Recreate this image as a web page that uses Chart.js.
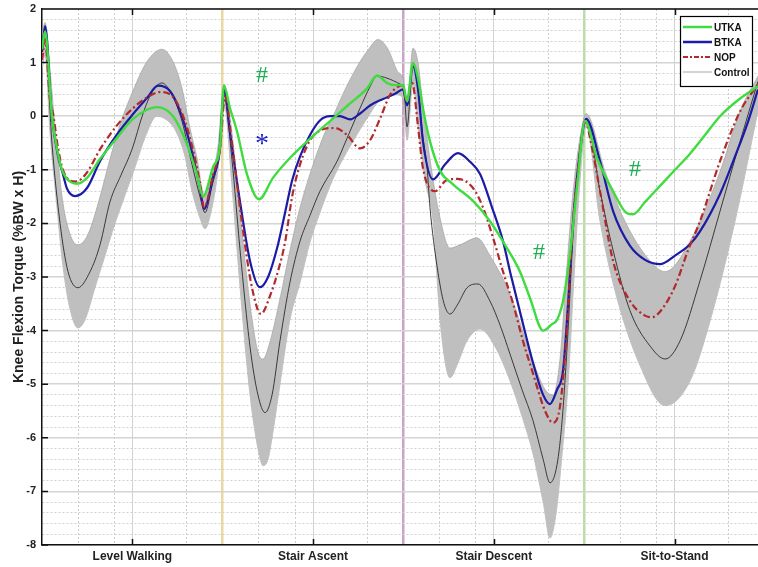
<!DOCTYPE html>
<html>
<head>
<meta charset="utf-8">
<script src="https://cdn.jsdelivr.net/npm/chart.js@4.4.1/dist/chart.umd.min.js"></script>
<style>
  html, body { margin: 0; padding: 0; background: #fff; }
  #wrap { width: 758px; height: 567px; }
</style>
</head>
<body>
<div id="wrap"><canvas id="chart" width="758" height="567"></canvas></div>
<script>
// x = % of each task, tasks laid end to end (0-100, 100-200, ...)
const taskLabels = ['Level Walking', 'Stair Ascent', 'Stair Descent', 'Sit-to-Stand'];
const taskCenters = [50, 150, 250, 350];
const xGridMarks = [20, 40, 50, 80, 100, 120, 140, 150, 180, 200, 220, 240, 250, 280, 300, 320, 340, 350, 380];
const xMax = 396.2;
const yMin = -8, yMax = 2;

const seriesNames = ['UTKA', 'BTKA', 'NOP', 'Control'];

const utkaX = [0, 1.7, 5.5, 8.9, 11.6, 15.5, 19.4, 24.9, 32.1, 41.5, 50.4, 63.6, 72.5, 80.2, 85.8, 89.1, 94.6, 98.5,
  100.7, 104.0, 107.9, 113.4, 120.1, 127.8, 137.2, 146.7, 159.4, 168.8, 179.9, 185.4, 190.9, 195.4, 199.8,
  202.0, 205.3, 208.1, 210.8, 214.7, 220.3, 227.4, 238.5, 247.9, 256.2, 264.5, 270.1, 277.3, 282.2, 285.0, 288.3, 292.2, 296.1,
  300.5, 307.1, 316.0, 323.7, 327.1, 333.7, 342.0, 350.3, 358.6, 366.9, 375.2, 386.3, 396.2];
const utkaY = [1.25, 1.58, 0.0, -0.71, -1.05, -1.22, -1.26, -1.15, -0.8, -0.4, -0.05, 0.17, 0.0, -0.52, -1.1, -1.5, -0.95, -0.55,
  0.57, 0.15, -0.28, -1.08, -1.55, -1.15, -0.78, -0.47, -0.09, 0.19, 0.52, 0.76, 0.62, 0.58, 0.58,
  0.28, 0.99, 0.7, 0.15, -0.47, -1.02, -1.27, -1.58, -1.96, -2.4, -2.9, -3.4, -4.0, -3.88, -3.8, -3.45, -2.57, -1.3,
  -0.09, -0.78, -1.4, -1.81, -1.83, -1.6, -1.3, -1.0, -0.7, -0.35, 0.0, 0.33, 0.56];

const btkaX = [0, 1.7, 5.5, 8.9, 11.6, 13.8, 18.3, 24.9, 32.1, 41.5, 50.4, 58.1, 64.2, 70.8, 76.4, 81.9, 87.4, 89.7, 94.6, 98.5,
  100.7, 104.0, 109.6, 115.1, 120.6, 125.1, 130.1, 134.5, 138.4, 142.8, 148.3, 153.8, 159.4, 164.9, 170.5, 176.0, 181.5, 188.7, 195.4, 199.8,
  202.0, 205.3, 208.1, 210.8, 216.4, 223.0, 230.2, 236.9, 242.4, 249.0, 255.1, 259.0, 265.6, 271.7, 277.3, 281.1, 285.0, 288.3, 291.1, 293.9, 297.2,
  301.1, 308.8, 316.0, 325.4, 333.7, 342.0, 350.3, 358.6, 364.1, 375.2, 383.5, 390.7, 396.2];
const btkaY = [1.2, 1.68, 0.0, -0.75, -1.08, -1.35, -1.49, -1.34, -0.84, -0.34, 0.04, 0.34, 0.57, 0.47, 0.09, -0.52, -1.34, -1.73, -1.15, -0.6,
  0.5, -0.3, -1.6, -2.7, -3.19, -3.0, -2.46, -1.8, -1.2, -0.75, -0.35, -0.08, 0.0, 0.0, -0.06, 0.05, 0.2, 0.32, 0.42, 0.5,
  0.2, 0.93, 0.5, -0.47, -1.18, -0.9, -0.69, -0.85, -1.08, -1.7, -2.33, -2.9, -3.8, -4.6, -5.2, -5.37, -5.1, -4.75, -3.5, -1.96, -0.8,
  -0.05, -0.84, -1.77, -2.42, -2.68, -2.76, -2.6, -2.39, -2.15, -1.45, -0.75, -0.1, 0.5];

const nopX = [0, 1.7, 4.4, 6.1, 8.9, 11.6, 15.5, 18.8, 24.9, 32.1, 41.5, 50.4, 58.1, 65.3, 71.9, 77.5, 83.0, 87.4, 89.7, 94.6, 98.5,
  101.3, 105.1, 110.7, 116.2, 121.2, 126.2, 130.1, 134.5, 138.4, 142.8, 148.3, 153.8, 162.1, 168.8, 176.0, 181.5, 187.0, 192.6, 197.0, 199.8,
  201.4, 204.8, 208.1, 210.8, 217.5, 223.6, 229.7, 238.5, 244.0, 249.6, 255.1, 260.7, 266.2, 271.7, 278.4, 282.8, 286.7, 290.0, 293.9, 297.2,
  300.5, 304.4, 308.8, 316.0, 325.4, 333.7, 337.6, 343.1, 350.3, 357.5, 364.1, 375.2, 386.3, 396.2];
const nopY = [1.05, 1.42, 0.3, 0.05, -0.6, -1.0, -1.2, -1.22, -1.05, -0.62, -0.17, 0.15, 0.35, 0.45, 0.38, 0.05, -0.55, -1.25, -1.7, -1.1, -0.6,
  0.37, -0.5, -2.0, -3.2, -3.69, -3.35, -2.95, -2.35, -1.5, -0.9, -0.45, -0.27, -0.22, -0.35, -0.6, -0.45, -0.05, 0.4, 0.55, 0.58,
  0.3, 0.62, -0.2, -0.97, -1.4, -1.2, -1.17, -1.34, -1.7, -2.27, -2.9, -3.5, -4.2, -4.8, -5.5, -5.72, -5.4, -4.2, -1.96, -0.8,
  -0.1, -0.6, -1.4, -2.7, -3.45, -3.72, -3.75, -3.6, -3.17, -2.5, -1.96, -0.84, 0.09, 0.6];

const controlX = [0, 1.7, 5.5, 10.0, 14.4, 19.9, 26.6, 32.1, 37.6, 43.7, 49.8, 55.9, 60.9, 66.4, 71.9, 77.5, 83.0, 87.4, 90.2, 94.1, 97.4,
  100.7, 105.1, 109.6, 115.1, 119.5, 123.4, 127.3, 131.7, 137.2, 142.8, 148.3, 153.8, 163.3, 168.8, 176.0, 181.5, 185.4, 190.9, 198.1, 200.3,
  202.0, 205.3, 208.1, 210.8, 213.1, 214.7, 218.6, 222.5, 225.8, 230.2, 235.2, 241.3, 247.9, 253.5, 259.0, 265.6, 271.7, 277.3, 281.1, 285.0, 287.8, 291.1, 293.9, 297.2,
  301.1, 308.8, 316.0, 325.4, 336.5, 344.8, 353.1, 364.1, 375.2, 386.3, 396.2];
const controlY = [1.2, 1.45, -0.5, -2.0, -2.9, -3.2, -2.9, -2.4, -1.6, -1.1, -0.62, 0.05, 0.45, 0.62, 0.4, -0.1, -0.9, -1.5, -1.8, -1.3, -0.8,
  0.4, -0.8, -2.5, -4.3, -5.2, -5.53, -5.2, -4.19, -3.1, -2.33, -1.85, -1.4, -0.84, -0.41, 0.15, 0.55, 0.75, 0.71, 0.6, 0.5,
  -0.2, 1.0, 0.5, -0.4, -0.97, -1.71, -2.8, -3.5, -3.69, -3.5, -3.2, -3.13, -3.45, -3.9, -4.44, -5.1, -5.68, -6.4, -6.84, -6.5, -5.68, -4.0, -2.2, -0.9,
  -0.05, -1.4, -2.5, -3.63, -4.29, -4.53, -4.19, -3.07, -1.77, -0.47, 0.65];

// control +/- 1 SD envelope
const bandUpperX = [0, 1.7, 4.4, 7.2, 11.1, 15.5, 19.9, 25.5, 32.1, 37.6, 43.2, 48.7, 58.1, 66.4, 72.5, 77.5, 81.9, 85.8, 89.7, 94.1, 97.4,
  100.7, 105.1, 109.6, 115.1, 119.5, 122.3, 126.2, 131.7, 137.2, 142.8, 150.0, 156.6, 161.0, 167.7, 176.0, 179.9, 185.9, 191.5, 196.5, 199.8,
  202.0, 205.3, 208.1, 210.8, 214.7, 220.3, 225.8, 231.3, 240.7, 247.9, 259.0, 271.7, 278.4, 282.8, 286.7, 290.0, 293.9, 297.7,
  301.1, 311.6, 322.6, 336.5, 344.8, 358.6, 375.2, 386.3, 396.2];
const bandUpperY = [1.55, 1.75, 0.9, -0.2, -1.5, -2.2, -2.4, -2.2, -1.5, -0.8, -0.15, 0.34, 1.02, 1.25, 1.02, 0.52, -0.22, -0.78, -1.45, -1.1, -0.55,
  0.6, -0.3, -1.8, -3.5, -4.4, -4.53, -4.2, -3.4, -2.5, -1.7, -0.9, -0.3, 0.0, 0.5, 1.02, 1.21, 1.43, 1.25, 0.85, 0.7,
  0.3, 1.27, 1.0, 0.2, -0.8, -1.9, -2.46, -2.4, -2.27, -2.6, -3.32, -4.57, -5.1, -5.2, -4.5, -3.0, -1.4, -0.4,
  0.05, -1.03, -1.96, -2.7, -2.9, -2.33, -1.03, 0.1, 0.75];
const bandLowerX = [0, 1.7, 4.4, 7.7, 11.6, 15.5, 19.9, 23.8, 29.3, 34.9, 40.4, 44.8, 51.5, 57.0, 63.6, 68.1, 73.6, 79.1, 83.0, 87.4, 90.2, 94.1, 97.4,
  100.7, 105.1, 109.6, 115.1, 119.5, 122.3, 125.1, 127.3, 131.7, 137.2, 142.8, 148.3, 153.8, 159.4, 164.9, 172.1, 179.9, 187.0, 195.4, 199.8,
  202.0, 205.3, 208.1, 212.0, 216.4, 220.3, 225.8, 230.2, 235.2, 242.4, 250.7, 259.0, 265.6, 271.7, 277.3, 281.1, 284.5, 287.8, 291.1, 294.4, 297.7,
  301.1, 308.8, 317.1, 331.0, 344.8, 358.6, 369.7, 383.5, 396.2];
const bandLowerY = [0.85, 1.15, -0.3, -1.5, -2.8, -3.6, -3.95, -3.8, -3.2, -2.6, -2.0, -1.58, -0.95, -0.4, 0.0, -0.05, -0.25, -0.75, -1.4, -1.9, -2.1, -1.7, -1.0,
  0.25, -1.3, -3.2, -5.2, -6.2, -6.52, -6.4, -6.0, -5.0, -3.8, -3.1, -2.35, -1.8, -1.3, -0.9, -0.47, -0.04, 0.3, 0.4, 0.35,
  -0.45, 0.6, -0.2, -1.2, -1.96, -3.82, -4.88, -4.6, -4.19, -3.97, -4.3, -4.94, -5.6, -6.3, -7.2, -7.87, -7.4, -6.3, -5.0, -3.0, -1.2,
  -0.19, -1.96, -3.26, -4.66, -5.4, -4.94, -3.82, -1.96, 0.1];

// significance markers (x, y in data units)
const marks = [
  { text: '#', x: 121.7, y: 0.75, color: '#1fae55' },
  { text: '*', x: 121.7, y: -0.43, color: '#2323c8' },
  { text: '#', x: 275.0, y: -2.55, color: '#1fae55' },
  { text: '#', x: 328.2, y: -1.0, color: '#1fae55' }
];

const colors = { UTKA: '#3fdc3f', BTKA: '#1b1ba6', NOP: '#b3282a', Control: '#2a2a2a', band: '#bfbfbf' };
const boundaryColors = { 100: '#e9d8a2', 200: '#c9a3c9', 300: '#bcdca8' };

const zip = (xs, ys) => xs.map((v, i) => ({ x: v, y: ys[i] }));
const isInt = v => Math.abs(v - Math.round(v)) < 1e-6;

const overlay = {
  id: 'overlay',
  afterDraw(chart) {
    const { ctx, chartArea: a, scales: { x, y } } = chart;
    ctx.save();
    // top edge of the plot box plus inward tick marks
    ctx.strokeStyle = '#111';
    ctx.lineWidth = 1.5;
    ctx.beginPath();
    ctx.moveTo(a.left, a.top); ctx.lineTo(a.right, a.top);
    taskCenters.forEach(v => {
      const px = Math.round(x.getPixelForValue(v)) + 0.5;
      ctx.moveTo(px, a.bottom); ctx.lineTo(px, a.bottom - 6);
      ctx.moveTo(px, a.top); ctx.lineTo(px, a.top + 6);
    });
    for (let v = yMin; v <= yMax; v++) {
      const py = y.getPixelForValue(v);
      ctx.moveTo(a.left, py); ctx.lineTo(a.left + 6, py);
    }
    ctx.stroke();

    // # and * markers
    ctx.textAlign = 'center';
    ctx.textBaseline = 'middle';
    marks.forEach(m => {
      ctx.fillStyle = m.color;
      ctx.font = m.text === '*' ? '28px "Liberation Serif"' : '24px "Liberation Serif"';
      ctx.fillText(m.text, x.getPixelForValue(m.x), y.getPixelForValue(m.y) + (m.text === '*' ? 5 : 0));
    });

    // legend box
    const bx = a.right - 78, by = a.top + 7, bw = 72, bh = 70;
    ctx.fillStyle = '#fff';
    ctx.fillRect(bx, by, bw, bh);
    ctx.strokeStyle = '#000';
    ctx.lineWidth = 1.2;
    ctx.strokeRect(bx + 0.5, by + 0.5, bw, bh);
    const styles = [
      { c: colors.UTKA, w: 2.5, d: [] },
      { c: colors.BTKA, w: 2.5, d: [] },
      { c: colors.NOP, w: 2.2, d: [5, 2, 2, 2] },
      { c: '#c4c4c4', w: 1.5, d: [] }
    ];
    ctx.font = 'bold 10px "Liberation Sans", Arial';
    ctx.textAlign = 'left';
    seriesNames.forEach((name, i) => {
      const ry = by + 11 + i * 15;
      const s = styles[i];
      ctx.strokeStyle = s.c;
      ctx.lineWidth = s.w;
      ctx.setLineDash(s.d);
      ctx.beginPath();
      ctx.moveTo(bx + 3, ry); ctx.lineTo(bx + 32, ry);
      ctx.stroke();
      ctx.setLineDash([]);
      ctx.fillStyle = '#111';
      ctx.fillText(name, bx + 34, ry + 1);
    });
    ctx.restore();
  }
};

const lineBase = { pointRadius: 0, cubicInterpolationMode: 'monotone', fill: false };

new Chart(document.getElementById('chart'), {
  type: 'line',
  plugins: [overlay],
  data: {
    datasets: [
      Object.assign({}, lineBase, { label: 'Control -SD', data: zip(bandLowerX, bandLowerY), borderColor: 'rgba(150,150,150,0.7)', borderWidth: 0.8, order: 10 }),
      Object.assign({}, lineBase, { label: 'Control +SD', data: zip(bandUpperX, bandUpperY), borderColor: 'rgba(150,150,150,0.7)', borderWidth: 0.8,
        fill: '-1', backgroundColor: colors.band, order: 9 }),
      Object.assign({}, lineBase, { label: 'Control', data: zip(controlX, controlY), borderColor: colors.Control, borderWidth: 0.9, order: 5 }),
      Object.assign({}, lineBase, { label: 'BTKA', data: zip(btkaX, btkaY), borderColor: colors.BTKA, borderWidth: 2.2, order: 4 }),
      Object.assign({}, lineBase, { label: 'NOP', data: zip(nopX, nopY), borderColor: colors.NOP, borderWidth: 2.2, borderDash: [7, 3, 2, 3], order: 3 }),
      Object.assign({}, lineBase, { label: 'UTKA', data: zip(utkaX, utkaY), borderColor: colors.UTKA, borderWidth: 2.4, order: 2 })
    ]
  },
  options: {
    responsive: false,
    animation: false,
    devicePixelRatio: 1,
    layout: { padding: { top: 9, right: 0, bottom: 0, left: 0 } },
    plugins: {
      legend: { display: false },
      tooltip: { enabled: false }
    },
    scales: {
      x: {
        type: 'linear',
        min: 0,
        max: xMax,
        afterBuildTicks: scale => { scale.ticks = xGridMarks.map(v => ({ value: v })); },
        afterFit: scale => { scale.height = 22; },
        ticks: {
          autoSkip: false,
          maxRotation: 0,
          padding: 4,
          color: '#222',
          font: { family: '"Liberation Sans", Arial', size: 12, weight: 'bold' },
          callback: v => (v % 100 === 50 ? taskLabels[Math.floor(v / 100)] : '')
        },
        grid: {
          drawTicks: false,
          color: ctx => {
            const v = ctx.tick.value;
            if (v % 100 === 0) return boundaryColors[v];
            return v % 100 === 50 ? '#d2d2d2' : '#cdcdcd';
          },
          lineWidth: ctx => (ctx.tick.value % 100 === 0 ? 2.5 : 1)
        },
        border: {
          color: '#111',
          width: 1.5,
          dash: ctx => (ctx.tick && ctx.tick.value % 50 === 0 ? [] : [2, 2])
        }
      },
      y: {
        min: yMin,
        max: yMax,
        afterFit: scale => { scale.width = 42; },
        title: {
          display: true,
          text: 'Knee Flexion Torque (%BW x H)',
          color: '#222',
          font: { family: '"Liberation Sans", Arial', size: 14, weight: 'bold' },
          padding: { top: 11, bottom: 0 }
        },
        ticks: {
          stepSize: 0.2,
          autoSkip: false,
          padding: 6,
          color: '#222',
          font: { family: '"Liberation Sans", Arial', size: 11, weight: 'bold', lineHeight: 0.4 },
          callback: v => (isInt(v) ? String(Math.round(v)) : '')
        },
        grid: {
          drawTicks: false,
          color: ctx => (isInt(ctx.tick.value) ? '#d4d4d4' : '#d0d0d0'),
          lineWidth: ctx => (isInt(ctx.tick.value) ? 1.6 : 1)
        },
        border: {
          color: '#111',
          width: 1.5,
          dash: ctx => (ctx.tick && !isInt(ctx.tick.value) ? [2, 2] : [])
        }
      }
    }
  }
});
</script>
</body>
</html>
